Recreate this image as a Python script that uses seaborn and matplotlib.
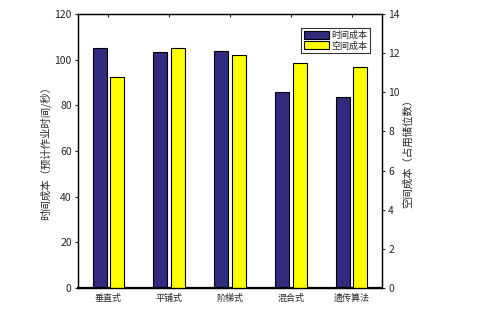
import matplotlib
matplotlib.use("Agg")
import matplotlib.pyplot as plt
import seaborn as sns
import pandas as pd
import numpy as np

categories = ["垂直式", "平铺式", "阶梯式", "混合式", "遗传算法"]
time_cost = [105.0, 103.3, 103.8, 85.8, 83.6]
space_cost = [10.78, 12.25, 11.9, 11.5, 11.28]
series_names = ["时间成本", "空间成本"]
colors = ["#322a7f", "#ffff00"]

sns.set_style("white")
plt.rcParams['font.family'] = ['Noto Sans CJK SC', 'DejaVu Sans']

n = len(categories)
df_time = pd.DataFrame({
    "cat": categories * 2,
    "series": [series_names[0]] * n + [series_names[1]] * n,
    "val": time_cost + [np.nan] * n,
})
df_space = pd.DataFrame({
    "cat": categories * 2,
    "series": [series_names[0]] * n + [series_names[1]] * n,
    "val": [np.nan] * n + space_cost,
})

fig = plt.figure(figsize=(4.83, 3.09), dpi=100)
ax1 = fig.add_axes([78 / 483, 21 / 309, 304 / 483, 274 / 309])
ax2 = ax1.twinx()

sns.barplot(data=df_time, x="cat", y="val", hue="series", order=categories,
            hue_order=series_names, palette=colors, width=0.58, gap=0.2,
            saturation=1, edgecolor="black", linewidth=0.8, ax=ax1, legend=False)
sns.barplot(data=df_space, x="cat", y="val", hue="series", order=categories,
            hue_order=series_names, palette=colors, width=0.58, gap=0.2,
            saturation=1, edgecolor="black", linewidth=0.8, ax=ax2, legend=False)

ax1.set_xlim(-0.5, n - 0.5)
ax1.set_ylim(0, 120)
ax1.set_yticks(np.arange(0, 121, 20))
ax2.set_ylim(0, 14)
ax2.set_yticks(np.arange(0, 15, 2))

ax1.set_xlabel("")
ax1.set_ylabel("时间成本（预计作业时间/秒）", fontsize=7.5, labelpad=2)
ax2.set_ylabel("空间成本（占用储位数）", fontsize=7.5, labelpad=2)
ax2.set_xlabel("")

ax1.tick_params(axis="x", labelsize=6.5, length=0, pad=4)
ax1.tick_params(axis="y", labelsize=7.5, direction="out", length=2.5, width=0.8, pad=2)
ax2.tick_params(axis="y", labelsize=7.5, direction="out", length=2.5, width=0.8, pad=2)

for ax in (ax1, ax2):
    for s in ax.spines.values():
        s.set_visible(True)
        s.set_color("black")
        s.set_linewidth(0.9)
ax1.spines["bottom"].set_linewidth(1.6)

# small top ticks
ax1.tick_params(axis="x", top=True, bottom=False, direction="in", length=2)
ax1.tick_params(axis="x", labeltop=False, labelbottom=True)

from matplotlib.patches import Patch
handles = [Patch(facecolor=c, edgecolor="black", linewidth=0.8) for c in colors]
leg = ax2.legend(handles, series_names, loc="upper right", fontsize=6.5,
                 frameon=True, fancybox=False, edgecolor="black",
                 borderpad=0.3, handlelength=2.8, handleheight=1.0,
                 handletextpad=0.2, labelspacing=0.15,
                 bbox_to_anchor=(0.975, 0.965))
leg.get_frame().set_linewidth(0.8)

fig.savefig("out.png", dpi=100)
